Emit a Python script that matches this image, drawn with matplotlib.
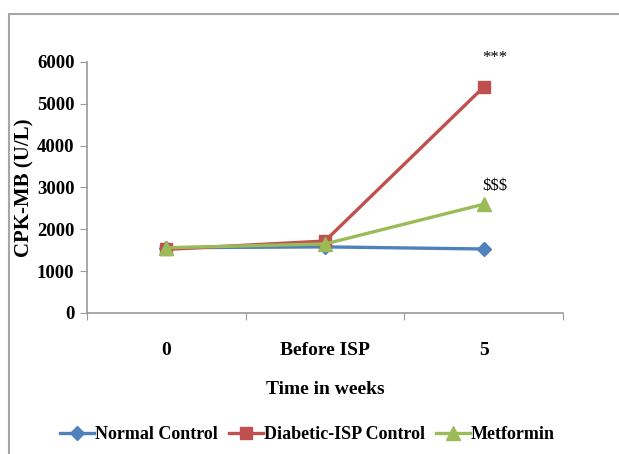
import matplotlib
matplotlib.use("Agg")
from matplotlib import pyplot as plt
from matplotlib.patches import Rectangle

# CPK-MB levels (U/L) over the study period
weeks = ["0", "Before ISP", "5"]
normal_control = [1560, 1580, 1530]
diabetic_isp = [1520, 1720, 5400]
metformin = [1560, 1650, 2600]

series_names = ["Normal Control", "Diabetic-ISP Control", "Metformin"]
marks = ["***", "$$$"]

plt.rcParams['font.family'] = ['Liberation Serif', 'DejaVu Serif']
plt.rcParams['font.weight'] = 'bold'


def main():
    fig = plt.figure(figsize=(6.19, 4.54), dpi=100)
    ax = fig.add_axes([0.1405, 0.3106, 0.769, 0.5529])

    # outer chart frame
    fig.patches.append(Rectangle((9 / 619, -0.1), 1.2, (454 - 14) / 454 + 0.1,
                                 transform=fig.transFigure, fill=False,
                                 edgecolor='#a6a6a6', linewidth=1.5))

    x = list(range(len(weeks)))
    ax.plot(x, normal_control, '-D', color='#4f81bd', lw=2.4, ms=7,
            label=series_names[0], zorder=3)
    ax.plot(x, diabetic_isp, '-s', color='#c0504d', lw=2.4, ms=8.5,
            label=series_names[1], zorder=3)
    ax.plot(x, metformin, '-^', color='#9bbb59', lw=2.4, ms=9.5,
            label=series_names[2], zorder=4)

    ax.annotate(marks[0], (2, diabetic_isp[2]), xytext=(8, 15),
                textcoords='offset points', ha='center', va='bottom',
                fontsize=12, fontweight='normal')
    ax.annotate(marks[1], (2, metformin[2]), xytext=(8, 7),
                textcoords='offset points', ha='center', va='bottom',
                fontsize=12, fontweight='normal')

    ax.set_xlim(-0.5, 2.5)
    ax.set_ylim(0, 6000)
    ax.set_yticks(range(0, 6001, 1000))
    ax.set_xticks([-0.5, 0.5, 1.5, 2.5])
    ax.set_xticklabels([])
    ax.set_xticks(x, minor=True)
    ax.set_xticklabels(weeks, minor=True)
    ax.tick_params(axis='x', which='minor', length=0, pad=21, labelsize=14)
    ax.tick_params(axis='x', which='major', length=5, color='#999999')
    ax.tick_params(axis='y', length=5, color='#999999', labelsize=13.5, pad=4)

    for side in ['top', 'right']:
        ax.spines[side].set_visible(False)
    for side in ['left', 'bottom']:
        ax.spines[side].set_color('#999999')
        ax.spines[side].set_linewidth(1.2)

    ax.set_ylabel("CPK-MB (U/L)", fontsize=15, fontweight='bold', labelpad=2)
    ax.set_xlabel("Time in weeks", fontsize=14, fontweight='bold', labelpad=16)

    ax.legend(loc='center', bbox_to_anchor=(0.463, -0.485), ncol=3, frameon=False,
              fontsize=13, handlelength=1.9, handletextpad=0.05, columnspacing=0.6,
              borderaxespad=0)

    fig.savefig("out.png", dpi=100)


if __name__ == '__main__':
    main()
